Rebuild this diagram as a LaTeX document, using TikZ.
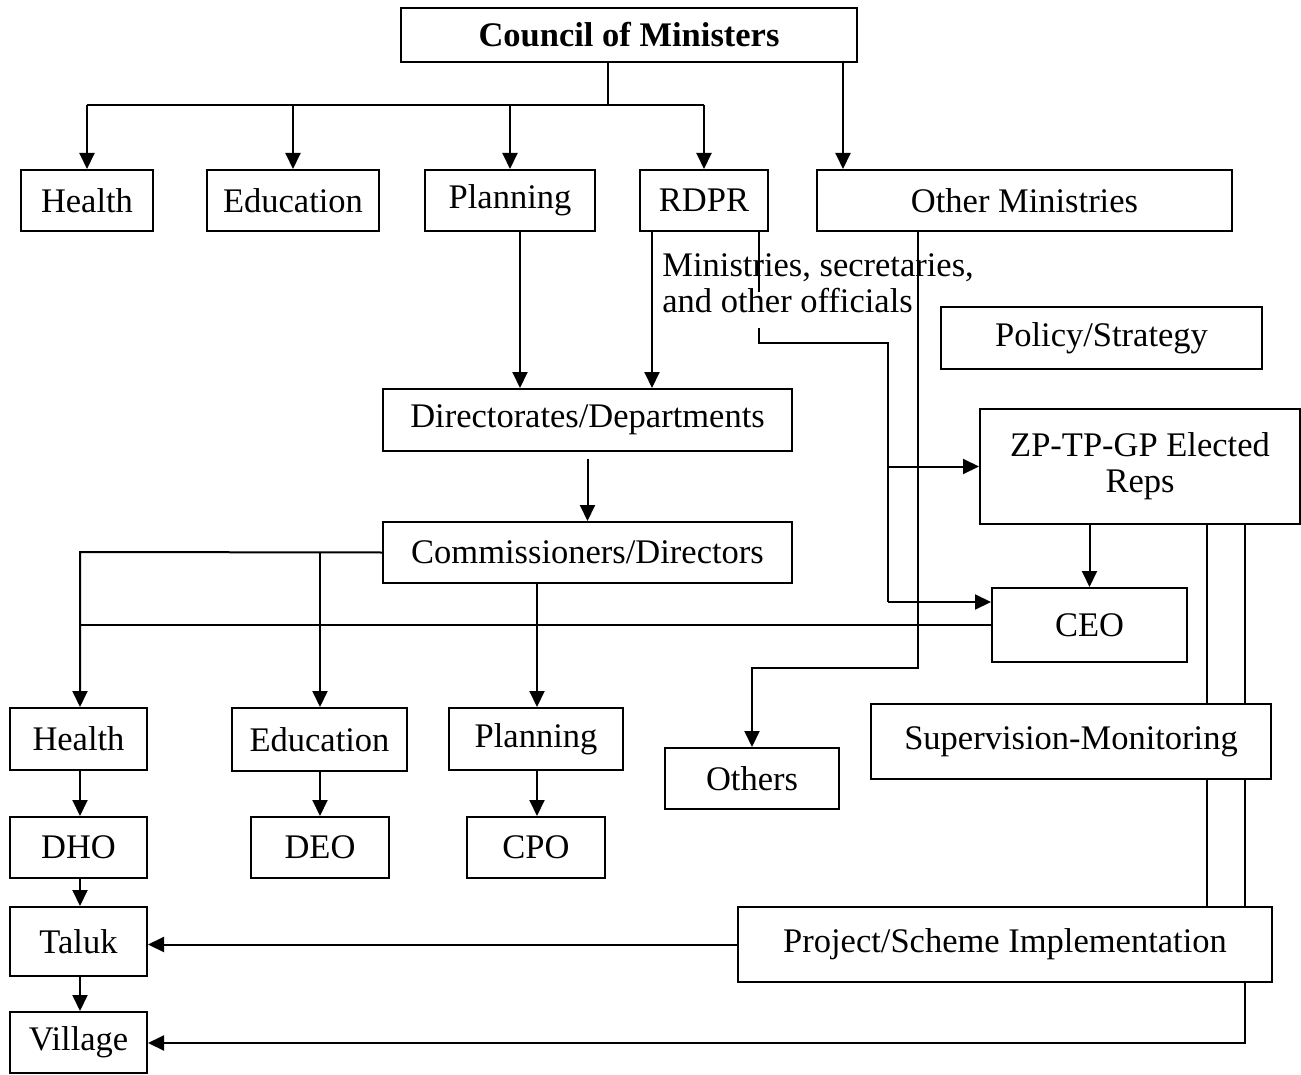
\documentclass[tikz,border=0pt]{standalone}
\usepackage{fontspec}
\setmainfont{Liberation Serif}
\usetikzlibrary{arrows.meta}
\pgfdeclarelayer{background}
\pgfsetlayers{background,main}
% a boxed label spanning the corners (#2,#3)--(#4,#5), text centred
\newcommand\mkbox[6]{%
  \node[box, minimum width={(#4-#2)*0.5pt}, minimum height={(#5-#3)*0.5pt}]
    (#1) at ({(#2+#4)/2},{(#3+#5)/2}) {#6};}
\begin{document}
\begin{tikzpicture}[x=0.5pt,y=-0.5pt,
  txt/.style={font=\fontsize{17.25}{18}\selectfont},
  box/.style={draw, line width=1pt, fill=white, inner sep=0pt, align=center, txt},
  link/.style={line width=1pt},
  arr/.style={link, -{Triangle[length=8pt,width=7.5pt]}}]
\useasboundingbox (0,0) rectangle (1301,1075);

% ---- boxes ----
\mkbox{council}{401}{8}{857}{62}{\bfseries Council of Ministers}
\mkbox{health}{21}{170}{153}{231}{Health}
\mkbox{edu}{207}{170}{379}{231}{Education}
\mkbox{plan}{425}{170}{595}{231}{Planning}
\mkbox{rdpr}{640}{170}{768}{231}{RDPR}
\mkbox{omin}{817}{170}{1232}{231}{Other Ministries}
\mkbox{policy}{941}{307}{1262}{369}{Policy/Strategy}
\mkbox{dir}{383}{389}{792}{451}{Directorates/Departments}
\mkbox{zp}{980}{409}{1300}{524}{ZP-TP-GP Elected\\Reps}
\mkbox{comm}{383}{522}{792}{583}{Commissioners/Directors}
\mkbox{ceo}{992}{588}{1187}{662}{CEO}
\mkbox{hl2}{10}{708}{147}{770}{Health}
\mkbox{ed2}{232}{708}{407}{771}{Education}
\mkbox{pl2}{449}{708}{623}{770}{Planning}
\mkbox{others}{665}{748}{839}{809}{Others}
\mkbox{sup}{871}{704}{1271}{779}{Supervision-Monitoring}
\mkbox{dho}{10}{817}{147}{878}{DHO}
\mkbox{deo}{251}{817}{389}{878}{DEO}
\mkbox{cpo}{467}{817}{605}{878}{CPO}
\mkbox{taluk}{10}{907}{147}{976}{Taluk}
\mkbox{proj}{738}{907}{1272}{982}{Project/Scheme Implementation}
\mkbox{village}{10}{1012}{147}{1073}{Village}

\node[txt, anchor=west, align=left, inner sep=0pt] (officials) at (662,283)
  {Ministries, secretaries,\\and other officials};

% ---- junction points ----
\coordinate (jtop) at (608,105);
\coordinate (xom) at (843,105);
\coordinate (xpl) at (520,300);
\coordinate (xrd) at (652,300);
\coordinate (xrdA) at (759,292);
\coordinate (xrdB) at (759,328);
\coordinate (bendA) at (759,343);
\coordinate (busA) at (888,343);
\coordinate (yceo) at (0,602);
\coordinate (xomB) at (918,668);
\coordinate (lbus) at (80,552);
\coordinate (xed) at (320,552);
\coordinate (xplB) at (537,600);
\coordinate (zpA) at (1207,600);
\coordinate (zpB) at (1245,1043);

% ---- Council of Ministers fan-out ----
\draw[link] (council.south -| jtop) -- (jtop);
\draw[link] (jtop -| health.north) -- (jtop -| rdpr.north);
\foreach \n in {health,edu,plan,rdpr}
  \draw[arr] (jtop -| \n.north) -- (\n.north);
\draw[arr] (council.south -| xom) -- (omin.north -| xom);

% ---- ministries to directorates ----
\draw[arr] (plan.south -| xpl) -- (dir.north -| xpl);
\draw[arr] (rdpr.south -| xrd) -- (dir.north -| xrd);

% ---- RDPR officials to elected reps and CEO ----
\draw[link] (rdpr.south -| xrdA) -- (xrdA) (xrdB) -- (bendA) -- (busA) -- (busA |- yceo);
\draw[arr] (busA |- zp.west) -- (zp.west);
\draw[arr] (busA |- yceo) -- (ceo.west |- yceo);

% ---- other ministries to others ----
\draw[arr] (omin.south -| xomB) -- (xomB) -| (others.north);

% ---- departmental chain ----
\draw[arr] ([yshift=-3.5pt]dir.south) -- (comm.north);
\draw[arr] (comm.west) -- (lbus) -- (lbus |- hl2.north);
\draw[arr] (xed) -- (xed |- ed2.north);
\draw[arr] (comm.south -| xplB) -- (pl2.north -| xplB);
\draw[link] (ceo.west) -- (ceo.west -| lbus);
\draw[arr] (zp.south -| ceo.north) -- (ceo.north);

\draw[arr] (hl2.south -| lbus) -- (dho.north -| lbus);
\draw[arr] (dho.south -| lbus) -- (taluk.north -| lbus);
\draw[arr] (taluk.south -| lbus) -- (village.north -| lbus);
\draw[arr] (ed2.south -| xed) -- (deo.north -| xed);
\draw[arr] (pl2.south -| xplB) -- (cpo.north -| xplB);

\draw[arr] (proj.west) -- (proj.west -| taluk.east);

% ---- elected reps down to implementation and village ----
\begin{pgfonlayer}{background}
\draw[link] (zp.south -| zpA) -- (proj.north -| zpA);
\draw[arr] (zp.south -| zpB) -- (zpB) -- (zpB -| village.east);
\end{pgfonlayer}
\end{tikzpicture}
\end{document}
